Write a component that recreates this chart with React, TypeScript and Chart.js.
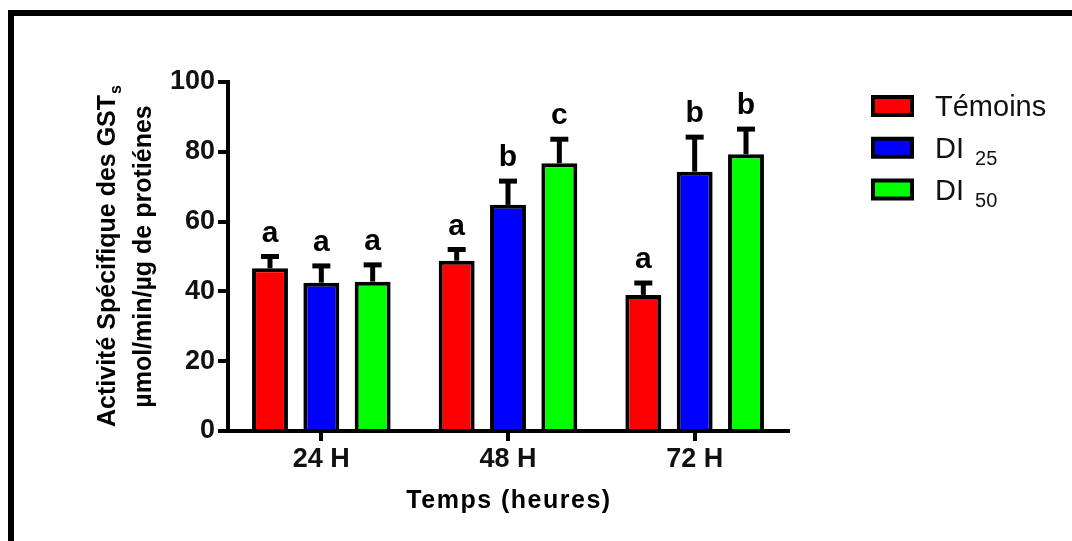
import React, { useEffect, useRef } from 'react';
import { Chart, registerables } from 'chart.js';

Chart.register(...registerables);

const categories = ['24 H', '48 H', '72 H'];
const seriesNames = ['Témoins', 'DI', 'DI'];
const seriesSubs = ['', '25', '50'];
const temoinsValues = [46.6, 48.8, 39.0];
const di25Values = [42.5, 64.8, 74.3];
const di50Values = [42.8, 76.7, 79.3];
const temoinsErrors = [3.4, 3.2, 3.4];
const di25Errors = [4.8, 6.8, 9.9];
const di50Errors = [4.8, 6.9, 7.2];
const temoinsLetters = ['a', 'a', 'a'];
const di25Letters = ['a', 'b', 'b'];
const di50Letters = ['a', 'c', 'b'];
const yMin = 0;
const yMax = 100;
const yStep = 20;
const yTitleLine1 = 'Activité Spécifique des GST';
const yTitleSub = 's';
const yTitleLine2 = 'µmol/min/µg de protiénes';
const xTitle = 'Temps (heures)';
const seriesColors = ['#FF0000', '#0000FF', '#00FF00'];

const FONT = '"Liberation Sans", Arial, sans-serif';

const errorsBySeries = [temoinsErrors, di25Errors, di50Errors];
const lettersBySeries = [temoinsLetters, di25Letters, di50Letters];

const decorPlugin = {
  id: 'decor',
  afterDatasetsDraw(chart: any) {
    const ctx = chart.ctx;
    const yScale = chart.scales.y;
    ctx.save();
    chart.data.datasets.forEach((ds: any, di: number) => {
      const meta = chart.getDatasetMeta(di);
      meta.data.forEach((bar: any, i: number) => {
        const v = ds.data[i];
        const e = errorsBySeries[di][i];
        const x = bar.x;
        const yTop = yScale.getPixelForValue(v);
        const yErr = yScale.getPixelForValue(v + e);
        ctx.strokeStyle = '#000';
        ctx.lineWidth = 5;
        ctx.lineCap = 'butt';
        ctx.beginPath();
        ctx.moveTo(x, yTop);
        ctx.lineTo(x, yErr);
        ctx.stroke();
        ctx.beginPath();
        ctx.moveTo(x - 9, yErr);
        ctx.lineTo(x + 9, yErr);
        ctx.stroke();
        ctx.fillStyle = '#000';
        ctx.font = `bold 30px ${FONT}`;
        ctx.textAlign = 'center';
        ctx.textBaseline = 'alphabetic';
        ctx.fillText(lettersBySeries[di][i], x, yErr - 15);
      });
    });
    ctx.restore();
  },
  afterDraw(chart: any) {
    const ctx = chart.ctx;
    const area = chart.chartArea;
    ctx.save();
    ctx.fillStyle = '#000';
    // Y title
    const cy = (area.top + area.bottom) / 2;
    ctx.save();
    ctx.translate(115, cy);
    ctx.rotate(-Math.PI / 2);
    ctx.font = `bold 25px ${FONT}`;
    const w1 = ctx.measureText(yTitleLine1).width;
    ctx.font = `bold 16px ${FONT}`;
    const ws = ctx.measureText(yTitleSub).width;
    const start = -(w1 + ws) / 2;
    ctx.font = `bold 25px ${FONT}`;
    ctx.textAlign = 'left';
    ctx.textBaseline = 'alphabetic';
    ctx.fillText(yTitleLine1, start, 0);
    ctx.font = `bold 16px ${FONT}`;
    ctx.fillText(yTitleSub, start + w1 + 1, 6);
    ctx.restore();
    ctx.save();
    ctx.translate(151, cy);
    ctx.rotate(-Math.PI / 2);
    ctx.font = `bold 25px ${FONT}`;
    ctx.textAlign = 'center';
    ctx.textBaseline = 'alphabetic';
    ctx.fillText(yTitleLine2, 0, 0);
    ctx.restore();
    // X title
    ctx.save();
    ctx.font = `bold 25px ${FONT}`;
    (ctx as any).letterSpacing = '1.5px';
    ctx.textAlign = 'center';
    ctx.textBaseline = 'alphabetic';
    ctx.fillText(xTitle, (area.left + area.right) / 2 + 1, 508);
    ctx.restore();
    // Legend
    const boxX = 871;
    const boxTop = 95;
    const gap = 41.75;
    chart.data.datasets.forEach((ds: any, di: number) => {
      const top = boxTop + di * gap;
      ctx.fillStyle = ds.backgroundColor;
      ctx.fillRect(boxX + 2, top + 2, 39, 18);
      ctx.strokeStyle = '#000';
      ctx.lineWidth = 4;
      ctx.strokeRect(boxX + 2, top + 2, 39, 18);
      const base = top + 11 + 10;
      ctx.fillStyle = '#111';
      ctx.font = `29px ${FONT}`;
      ctx.textAlign = 'left';
      ctx.textBaseline = 'alphabetic';
      const main = seriesNames[di];
      ctx.fillText(main, 935, base);
      if (seriesSubs[di]) {
        const mw = ctx.measureText(main + ' ').width;
        ctx.font = `20px ${FONT}`;
        ctx.fillText(seriesSubs[di], 935 + mw + 3, base + 7);
      }
    });
    // Frame
    ctx.strokeStyle = '#000';
    ctx.lineWidth = 6;
    ctx.strokeRect(11, 13, 3000, 3000);
    ctx.restore();
  },
};

export default function App() {
  const ref = useRef<HTMLCanvasElement | null>(null);
  useEffect(() => {
    if (!ref.current) return;
    const chart = new Chart(ref.current, {
      type: 'bar',
      data: {
        labels: categories,
        datasets: [
          { label: seriesNames[0], data: temoinsValues, backgroundColor: seriesColors[0] },
          { label: seriesNames[1] + ' ' + seriesSubs[1], data: di25Values, backgroundColor: seriesColors[1] },
          { label: seriesNames[2] + ' ' + seriesSubs[2], data: di50Values, backgroundColor: seriesColors[2] },
        ].map((d) => ({
          ...d,
          borderColor: '#000',
          borderWidth: 4,
          categoryPercentage: 0.825,
          barPercentage: 0.7,
        })),
      },
      options: {
        responsive: false,
        animation: false,
        devicePixelRatio: 1,
        layout: { padding: { left: 0, top: 82, right: 284, bottom: 0 } },
        plugins: {
          legend: { display: false },
          tooltip: { enabled: false },
          title: { display: false },
        },
        scales: {
          x: {
            offset: true,
            grid: {
              display: true,
              offset: false,
              drawOnChartArea: false,
              drawTicks: true,
              tickLength: 10,
              lineWidth: 4,
              color: '#000',
            },
            border: { display: true, width: 4, color: '#000' },
            ticks: {
              color: '#111',
              font: { family: FONT, size: 27, weight: 'bold' },
              padding: 2,
              maxRotation: 0,
            },
            afterFit: (scale: any) => {
              scale.height = 110;
            },
          },
          y: {
            min: yMin,
            max: yMax,
            grid: {
              display: true,
              drawOnChartArea: false,
              drawTicks: true,
              tickLength: 10,
              lineWidth: 4,
              color: '#000',
            },
            border: { display: true, width: 4, color: '#000' },
            ticks: {
              stepSize: yStep,
              color: '#111',
              font: { family: FONT, size: 27, weight: 'bold' },
              padding: 3,
            },
            afterFit: (scale: any) => {
              scale.width = 228;
            },
          },
        },
      },
      plugins: [decorPlugin],
    } as any);
    return () => chart.destroy();
  }, []);
  return (
    <div style={{ position: 'fixed', left: 0, top: 0, width: 1072, height: 541, background: '#fff' }}>
      <canvas ref={ref} width={1072} height={541} style={{ display: 'block' }} />
    </div>
  );
}
